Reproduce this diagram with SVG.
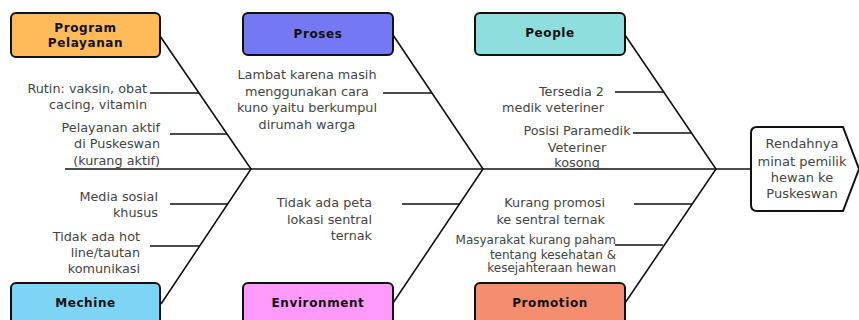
<svg xmlns="http://www.w3.org/2000/svg" width="859" height="320" viewBox="0 0 859 320">
<style>
.box{stroke:#111;stroke-width:2}
.t{font-family:"DejaVu Sans","Liberation Sans",sans-serif;font-weight:700;font-size:12px;letter-spacing:0.6px;fill:#111;text-anchor:middle}
.l{font-family:"DejaVu Sans","Liberation Sans",sans-serif;font-size:12.8px;fill:#444}
.s{font-size:12px}
.r{text-anchor:end}
.c{text-anchor:middle}
.ln{stroke:#111;stroke-width:1.6;fill:none}
</style>
<rect width="859" height="320" fill="#fff"/>
<g id="connectors">
<line class="ln" x1="65" y1="169" x2="752" y2="169"/>
<polyline class="ln" points="160,36 251,169 161,304"/>
<polyline class="ln" points="393,35 483,169 393,303"/>
<polyline class="ln" points="625,35 716,169 625,303"/>
<line class="ln" x1="150" y1="93" x2="199" y2="93"/>
<line class="ln" x1="170" y1="134" x2="227" y2="134"/>
<line class="ln" x1="170" y1="204" x2="228" y2="204"/>
<line class="ln" x1="150" y1="246" x2="200" y2="246"/>
<line class="ln" x1="383" y1="93" x2="432" y2="93"/>
<line class="ln" x1="402" y1="204" x2="460" y2="204"/>
<line class="ln" x1="615" y1="92" x2="664" y2="92"/>
<line class="ln" x1="633" y1="133" x2="692" y2="133"/>
<line class="ln" x1="634" y1="204" x2="692" y2="204"/>
<line class="ln" x1="615" y1="245" x2="663" y2="245"/>
</g>
<g id="program-pelayanan">
<rect class="box" x="11" y="13" width="149" height="44" rx="5" fill="#FFBA5A"/>
<text class="t" x="85.5" y="32">Program</text>
<text class="t" x="85.5" y="47">Pelayanan</text>
</g>
<g id="proses">
<rect class="box" x="243" y="13" width="150" height="42" rx="5" fill="#7478F2"/>
<text class="t" x="318" y="38">Proses</text>
</g>
<g id="people">
<rect class="box" x="475" y="13" width="150" height="42" rx="5" fill="#8DDEDC"/>
<text class="t" x="550" y="37">People</text>
</g>
<g id="mechine">
<rect class="box" x="11" y="283" width="149" height="45" rx="5" fill="#7DD4F5"/>
<text class="t" x="85.5" y="307">Mechine</text>
</g>
<g id="environment">
<rect class="box" x="243" y="283" width="150" height="45" rx="5" fill="#FF9AFB"/>
<text class="t" x="318" y="307">Environment</text>
</g>
<g id="promotion">
<rect class="box" x="475" y="283" width="150" height="45" rx="5" fill="#F58E6E"/>
<text class="t" x="550" y="307">Promotion</text>
</g>
<g id="head">
<path class="box" d="M757,127 H843 L859,169 L843,211 H757 Q751,211 751,205 V133 Q751,127 757,127 Z" fill="#fff"/>
<text class="l c" x="802" y="148" style="font-size:13px">Rendahnya</text>
<text class="l c" x="802" y="166" style="font-size:13px">minat pemilik</text>
<text class="l c" x="802" y="182" style="font-size:13px">hewan ke</text>
<text class="l c" x="802" y="198" style="font-size:13px">Puskeswan</text>
</g>
<g id="labels">
<text class="l r" x="147" y="93">Rutin: vaksin, obat</text>
<text class="l r" x="147" y="109">cacing, vitamin</text>
<text class="l r" x="160" y="132">Pelayanan aktif</text>
<text class="l r" x="160" y="148">di Puskeswan</text>
<text class="l r" x="160" y="165">(kurang aktif)</text>
<text class="l r" x="158" y="201">Media sosial</text>
<text class="l r" x="158" y="217">khusus</text>
<text class="l r" x="140" y="241">Tidak ada hot</text>
<text class="l r" x="140" y="257">line/tautan</text>
<text class="l r" x="140" y="273">komunikasi</text>
<text class="l c" x="307" y="79">Lambat karena masih</text>
<text class="l c" x="307" y="96">menggunakan cara</text>
<text class="l c" x="307" y="112">kuno yaitu berkumpul</text>
<text class="l c" x="307" y="129">dirumah warga</text>
<text class="l r" x="372" y="207">Tidak ada peta</text>
<text class="l r" x="372" y="224">lokasi sentral</text>
<text class="l r" x="372" y="240">ternak</text>
<text class="l r" x="604" y="96">Tersedia 2</text>
<text class="l r" x="604" y="112">medik veteriner</text>
<text class="l c" x="577" y="135">Posisi Paramedik</text>
<text class="l c" x="577" y="152">Veteriner</text>
<text class="l c" x="577" y="167">kosong</text>
<text class="l r" x="605" y="207">Kurang promosi</text>
<text class="l r" x="605" y="224">ke sentral ternak</text>
<text class="l r s" x="616" y="244">Masyarakat kurang paham</text>
<text class="l r s" x="616" y="259">tentang kesehatan &amp;</text>
<text class="l r s" x="616" y="272">kesejahteraan hewan</text>
</g>
</svg>
